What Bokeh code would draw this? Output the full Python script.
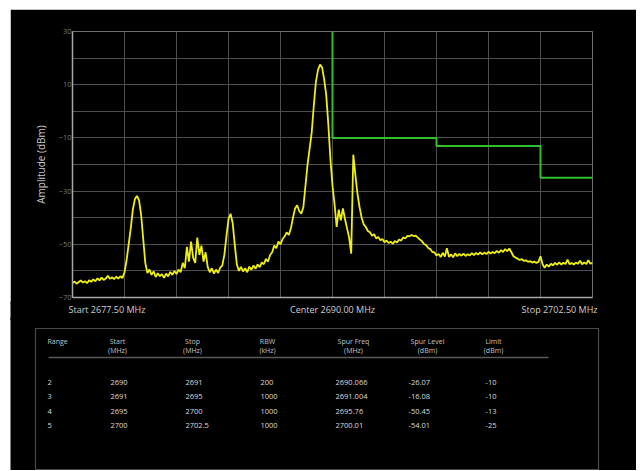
from bokeh.plotting import figure
from bokeh.models import FixedTicker, Range1d
from bokeh.embed import file_html
from bokeh.resources import INLINE
from bokeh.core.properties import value

# ---------------- data ----------------
FREQ_START = 2677.5
FREQ_STOP = 2702.5
FREQ_CENTER = 2690.0
FREQ_STEP = 0.1  # sweep point spacing (MHz)

amplitude = [
    -64.5, -64.0, -64.8, -64.2, -63.6, -64.4, -63.9, -64.6, -63.5, -64.1,
    -63.2, -63.9, -62.8, -63.6, -62.5, -63.4, -62.9, -61.8, -63.0, -62.4,
    -63.1, -62.2, -62.9, -62.0, -62.7, -60.5, -56.0, -50.0, -44.0, -37.0,
    -33.0, -31.8, -33.5, -39.0, -48.0, -57.0, -60.8, -59.5, -61.5, -60.2,
    -62.3, -60.9, -62.0, -61.2, -62.6, -61.0, -62.1, -60.4, -61.5, -60.0,
    -61.2, -59.5, -60.5, -57.0, -59.0, -51.0, -56.5, -49.0, -55.0, -57.0,
    -47.5, -54.0, -50.5, -56.5, -53.0, -58.5, -60.5, -59.0, -61.0, -59.5,
    -60.8, -58.8, -58.0, -54.0, -47.0, -40.5, -38.5, -42.0, -50.0, -57.5,
    -60.0, -58.5, -60.2, -59.0, -60.5, -58.4, -59.6, -58.0, -59.2, -57.6,
    -58.6, -56.8, -57.5, -55.5, -56.5, -54.0, -53.0, -50.5, -51.5, -49.0,
    -50.0, -48.0, -47.0, -45.5, -46.5, -44.0, -40.0, -36.5, -35.3, -37.5,
    -38.5, -36.0, -28.0, -20.0, -14.0, -8.0, 2.0, 11.0, 15.5, 17.6,
    16.5, 12.0, 6.0, -5.0, -18.0, -28.0, -35.0, -43.5, -37.0, -41.0,
    -36.5, -40.5, -44.0, -47.5, -53.5, -16.3, -24.0, -31.0, -36.0, -40.0,
    -42.5, -43.5, -45.0, -45.5, -46.8, -46.2, -47.8, -47.2, -48.5, -48.0,
    -49.2, -48.6, -49.5, -49.0, -49.8, -48.8, -49.3, -48.2, -48.6, -47.4,
    -47.8, -46.8, -47.0, -46.5, -46.9, -46.7, -47.5, -48.2, -48.8, -49.9,
    -50.3, -51.4, -51.8, -52.9, -53.0, -54.2, -53.6, -54.8, -53.2, -54.6,
    -51.5, -54.7, -53.8, -54.9, -53.4, -54.5, -53.6, -54.3, -53.5, -54.4,
    -53.7, -54.2, -53.3, -54.1, -53.2, -53.9, -53.0, -53.8, -53.1, -53.7,
    -52.8, -53.5, -52.9, -53.3, -52.5, -53.2, -52.2, -52.9, -51.8, -52.6,
    -51.6, -53.0, -54.5, -55.0, -55.4, -55.9, -55.6, -56.2, -56.0, -56.6,
    -56.3, -56.9, -56.5, -57.0, -56.6, -54.5, -57.5, -58.8, -57.6, -58.4,
    -57.3, -57.9, -57.0, -57.7, -56.8, -57.6, -56.9, -57.4, -55.8, -57.5,
    -57.0, -57.6, -56.9, -57.3, -56.2, -57.5, -56.8, -57.4, -56.0, -57.3,
    -57.0,
]
freq = [FREQ_START + FREQ_STEP * i for i in range(len(amplitude))]

y_min, y_max = -70, 30
y_label_ticks = [-70, -50, -30, -10, 10, 30]
y_grid_ticks = [-70, -60, -50, -40, -30, -20, -10, 0, 10, 20, 30]
x_grid_ticks = [2677.5, 2680.0, 2682.5, 2685.0, 2687.5, 2690.0,
                2692.5, 2695.0, 2697.5, 2700.0, 2702.5]

range_id = ["2", "3", "4", "5"]
range_start = [2690, 2691, 2695, 2700]
range_stop = [2691, 2695, 2700, 2702.5]
rbw = [200, 1000, 1000, 1000]
spur_freq = ["2690.066", "2691.004", "2695.76", "2700.01"]
spur_level = ["-26.07", "-16.08", "-50.45", "-54.01"]
limit = [-10, -10, -13, -25]

header_top = ["Range", "Start", "Stop", "RBW", "Spur Freq", "Spur Level", "Limit"]
header_bottom = ["", "(MHz)", "(MHz)", "(kHz)", "(MHz)", "(dBm)", "(dBm)"]

FONT = "Open Sans"
W = 626
ML, MT = 10, 9          # outer offset of the black panel
BL, BR = 62, 44         # left / right borders around the plot frame
FRAME_W = W - BL - BR
OV = 3                  # overlap between stacked pieces (hides seams)
CSS = [":host { vertical-align: top; } svg, canvas { vertical-align: top; }"]

# ---------------- spectrum figure ----------------
p = figure(width=W, height=295, output_backend="svg", toolbar_location=None,
           x_range=Range1d(FREQ_START, FREQ_STOP), y_range=Range1d(y_min, y_max),
           min_border_left=BL, min_border_right=BR, min_border_top=22,
           min_border_bottom=7, margin=(MT, 0, 0, ML), stylesheets=CSS)
p.background_fill_color = "black"
p.border_fill_color = "black"
p.outline_line_color = "#707070"

p.xgrid.ticker = FixedTicker(ticks=x_grid_ticks)
p.ygrid.ticker = FixedTicker(ticks=y_grid_ticks)
p.grid.grid_line_color = "#4e4e4e"
p.grid.grid_line_width = 1

p.yaxis.ticker = FixedTicker(ticks=y_label_ticks)
p.yaxis.axis_label = "Amplitude (dBm)"
p.yaxis.axis_label_text_font = FONT
p.yaxis.axis_label_text_font_style = "normal"
p.yaxis.axis_label_text_font_size = "10px"
p.yaxis.axis_label_text_color = "#c8c8c8"
p.yaxis.axis_label_standoff = 8
p.yaxis.major_label_text_font = FONT
p.yaxis.major_label_text_font_size = "7.5px"
p.yaxis.major_label_text_color = "#7a7a7a"
p.yaxis.major_label_standoff = 1
p.axis.major_tick_in = 0
p.axis.major_tick_out = 0
p.axis.major_tick_line_color = None
p.axis.minor_tick_line_color = None
p.axis.axis_line_color = "#a8a8a8"
p.axis.axis_line_width = 1.5
p.xaxis.ticker = FixedTicker(ticks=[])

p.line(freq, amplitude, line_color="#f0ef12", line_width=1.8)

lim_x = [range_start[0]]
lim_y = [y_max]
for s0, e0, l0 in zip(range_start, range_stop, limit):
    lim_x += [s0, e0]
    lim_y += [l0, l0]
p.line(lim_x, lim_y, line_color="#2fbf2f", line_width=2)

# ---------------- frequency label strip (same MHz-per-pixel scale) ----------------
mhz_per_px = (FREQ_STOP - FREQ_START) / FRAME_W
SH = 16 + OV
s = figure(width=W, height=SH, output_backend="svg", toolbar_location=None,
           x_range=Range1d(FREQ_START - BL * mhz_per_px, FREQ_STOP + BR * mhz_per_px),
           y_range=Range1d(SH, 0), min_border=0, margin=(-OV, 0, 0, ML),
           stylesheets=CSS)
s.background_fill_color = "black"
s.border_fill_color = "black"
s.outline_line_color = None
s.axis.visible = False
s.grid.visible = False
for fx, txt, align, xo in [(FREQ_START, "Start %.2f MHz" % FREQ_START, "left", -4),
                           (FREQ_CENTER, "Center %.2f MHz" % FREQ_CENTER, "center", 0),
                           (FREQ_STOP, "Stop %.2f MHz" % FREQ_STOP, "right", 5)]:
    s.text(x=[fx], y=[5 + OV], text=[txt], text_align=align, text_baseline="middle",
           x_offset=xo, text_font=value(FONT), text_font_size="9px",
           text_color="#cfcfcf")

# ---------------- table figure ----------------
TH = 150 + OV
t = figure(width=W, height=TH, output_backend="svg", toolbar_location=None,
           x_range=Range1d(0, W), y_range=Range1d(TH - OV, -OV),
           min_border=0, margin=(-OV, 0, 0, ML), stylesheets=CSS)
t.background_fill_color = "black"
t.border_fill_color = "black"
t.outline_line_color = None
t.axis.visible = False
t.grid.visible = False

t.quad(left=[25], right=[588], top=[8], bottom=[149], fill_color=None,
       line_color="#4a4a4a", line_width=1.2)
t.segment(x0=[38], y0=[37], x1=[538], y1=[37], line_color="#5a5a5a", line_width=1.5)

head_x = [37, 107, 182, 257, 343, 417, 483]
head_align = ["left"] + ["center"] * 6
for hx, ht, hb, ha in zip(head_x, header_top, header_bottom, head_align):
    t.text(x=[hx], y=[21], text=[ht], text_align=ha, text_baseline="middle",
           text_font=value(FONT), text_font_size="7px", text_color="#c4c4c4")
    if hb:
        t.text(x=[hx], y=[30], text=[hb], text_align=ha, text_baseline="middle",
               text_font=value(FONT), text_font_size="7px", text_color="#c4c4c4")

col_x = [37, 100, 175, 250, 325, 398, 475]
row_y = [62, 76, 91, 105]
columns = [range_id,
           ["%g" % v for v in range_start],
           ["%g" % v for v in range_stop],
           ["%g" % v for v in rbw],
           spur_freq,
           spur_level,
           ["%g" % v for v in limit]]
for cx, col in zip(col_x, columns):
    t.text(x=[cx] * len(col), y=row_y, text=col, text_align="left",
           text_baseline="middle", text_font=value(FONT),
           text_font_size="7.5px", text_color="#dcdcdc")

open("out.html", "w").write(file_html([p, s, t], INLINE))
